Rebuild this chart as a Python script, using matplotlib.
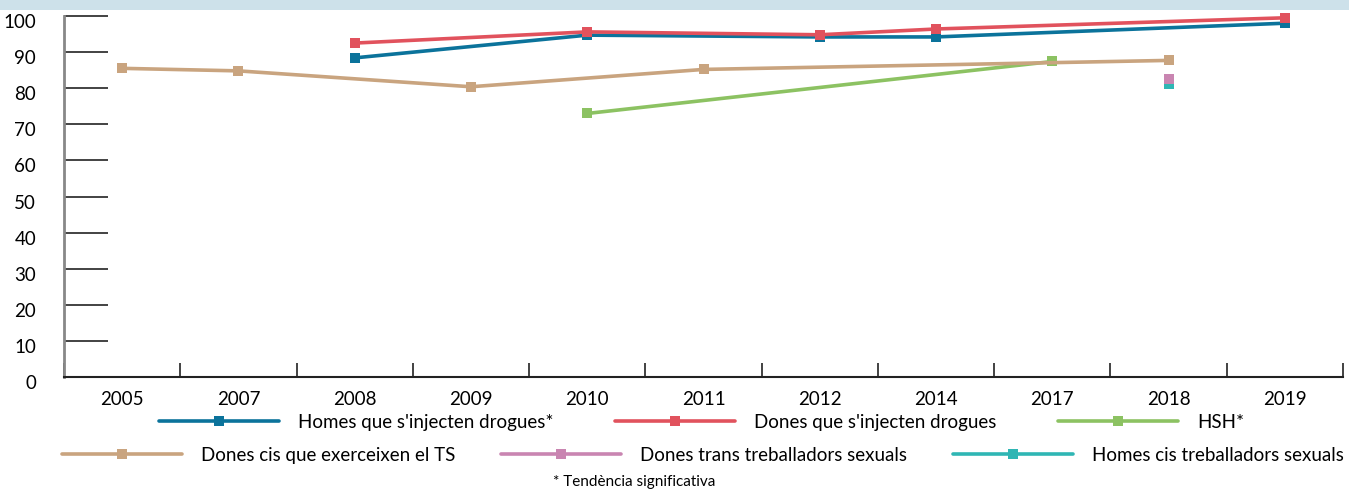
import numpy as np
import matplotlib
matplotlib.use("Agg")
import matplotlib.pyplot as plt
from matplotlib.patches import Rectangle
from matplotlib.transforms import ScaledTranslation

plt.rcParams['font.family'] = ['Lato', 'DejaVu Sans']

# categories on x axis
anys = ['2005', '2007', '2008', '2009', '2010', '2011', '2012', '2014', '2017', '2018', '2019']
nan = np.nan

# values (%)
homes_udi = [nan, nan, 88.4, nan, 94.7, nan, 94.2, 94.2, nan, nan, 98.0]
dones_udi = [nan, nan, 92.5, nan, 95.6, nan, 94.8, 96.4, nan, nan, 99.5]
hsh = [nan, nan, nan, nan, 73.0, nan, nan, nan, 87.4, nan, nan]
dones_cis_ts = [85.5, 84.8, nan, 80.4, nan, 85.2, nan, nan, nan, 87.7, nan]
dones_trans_ts = [nan, nan, nan, nan, nan, nan, nan, nan, nan, 82.6, nan]
homes_cis_ts = [nan, nan, nan, nan, nan, nan, nan, nan, nan, 81.2, nan]

series = [
    ("Homes que s'injecten drogues*", homes_udi, '#0b739b'),
    ("Dones que s'injecten drogues", dones_udi, '#e1525d'),
    ("HSH*", hsh, '#8cc262'),
    ("Dones cis que exerceixen el TS", dones_cis_ts, '#c9a47f'),
    ("Homes cis treballadors sexuals", homes_cis_ts, '#2fb6b4'),
    ("Dones trans treballadors sexuals", dones_trans_ts, '#c985b1'),
]

fig = plt.figure(figsize=(13.49, 4.90), dpi=100)
# franja blava clara a dalt
fig.patches.append(Rectangle((0, 1 - 10 / 490), 1, 10 / 490, transform=fig.transFigure,
                             facecolor='#cde1ea', edgecolor='none'))

ax = fig.add_axes([64 / 1349, 1 - 377 / 490, (1343 - 64) / 1349, (377 - 16) / 490])
x = np.arange(len(anys))

handles = {}
for nom, vals, col in series:
    v = np.array(vals, dtype=float)
    m = ~np.isnan(v)
    h, = ax.plot(x[m], v[m], color=col, lw=2.6, marker='s', ms=7.5,
                 markeredgewidth=0, solid_capstyle='round', clip_on=False, label=nom)
    handles[nom] = h

ax.set_xlim(-0.5, len(anys) - 0.5)
ax.set_ylim(0, 100)
ax.set_yticks(np.arange(0, 101, 10))
ax.tick_params(axis='y', direction='in', length=32, width=1.2, color='#222222',
               labelsize=13.5, pad=20)
ax.set_xticks(x)
ax.set_xticklabels(anys)
ax.set_xticks(np.arange(len(anys) + 1) - 0.5, minor=True)
ax.tick_params(axis='x', which='major', length=0, labelsize=13.5, pad=10)
ax.tick_params(axis='x', which='minor', direction='in', length=10, width=1.2, color='#222222')
for lab in ax.get_yticklabels():
    lab.set_transform(lab.get_transform() + ScaledTranslation(0, -5 / 100, fig.dpi_scale_trans))
for s in ['top', 'right']:
    ax.spines[s].set_visible(False)
ax.spines['left'].set_color('#888888')
ax.spines['left'].set_linewidth(2)
ax.spines['bottom'].set_color('#222222')
ax.spines['bottom'].set_linewidth(1.5)

fila1 = ["Homes que s'injecten drogues*", "Dones que s'injecten drogues", "HSH*"]
fila2 = ["Dones cis que exerceixen el TS", "Dones trans treballadors sexuals",
         "Homes cis treballadors sexuals"]
leg1 = fig.legend([handles[n] for n in fila1], fila1, loc='center', ncol=3,
                  bbox_to_anchor=(0.520, 1 - 422 / 490), frameon=False, fontsize=13.5,
                  handlelength=6.4, columnspacing=3.3, handletextpad=1.0)
leg2 = fig.legend([handles[n] for n in fila2], fila2, loc='center', ncol=3,
                  bbox_to_anchor=(0.521, 1 - 455 / 490), frameon=False, fontsize=13.5,
                  handlelength=6.4, columnspacing=2.45, handletextpad=1.0)

fig.text(553 / 1349, 1 - 482 / 490, "* Tendència significativa", fontsize=11,
         va='center', ha='left')

plt.savefig('out.png', dpi=100)
